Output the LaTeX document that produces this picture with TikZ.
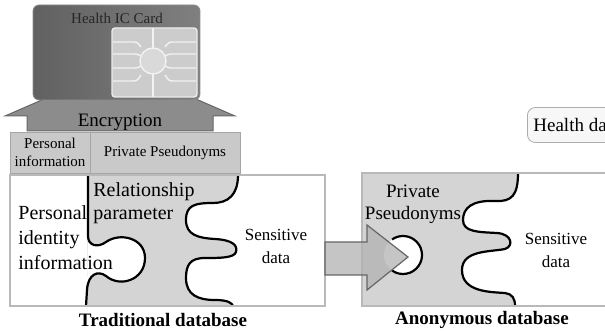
\documentclass[tikz,border=0pt]{standalone}
\usepackage{fontspec}
\setmainfont{Liberation Serif}
\newfontfamily\labelfont{Liberation Serif}
\usetikzlibrary{positioning}

\begin{document}
\begin{tikzpicture}[
        x=0.5pt, y=-0.5pt,
        every node/.style={font=\labelfont},
        box_style/.style={rectangle, draw=gray!70, fill=black!21, inner sep=0pt, align=center, font=\labelfont\fontsize{7.5}{9}\selectfont},
        label_style/.style={font=\labelfont\fontsize{10}{12.5}\selectfont, align=left, inner sep=0pt, anchor=north west},
        small_style/.style={font=\labelfont\fontsize{8.5}{11.5}\selectfont, align=center, inner sep=0pt},
        title_style/.style={font=\labelfont\fontsize{9.5}{11}\selectfont\bfseries, inner sep=0pt},
        edge_style/.style={line width=1.1pt, black},
        frame_style/.style={draw=gray!55, line width=0.6pt, fill=white},
        chip_line/.style={white!90!gray, line width=0.7pt}
    ]
    \useasboundingbox (0,0) rectangle (605,331);
    \clip (0,0) rectangle (605,331);

    % Pfeil nach oben (Verschluesselung)
    \filldraw[fill=black!45, draw=black!60, line width=0.5pt]
        (27,131) -- (27,116) -- (5,116) -- (120,66) -- (235,116) -- (213,116) -- (213,131) -- cycle;
    \node (enc) [font=\labelfont\fontsize{9.5}{11}\selectfont, inner sep=0pt] at (120,122) {Encryption};

    % Karte mit Chip
    \node (card) [rectangle, rounded corners=3pt, draw=black!45, left color=black!62, right color=black!50, minimum width=83.5pt, minimum height=47.5pt] at (116.5,52.5) {};
    \node (cardtitle) [font=\labelfont\fontsize{7.5}{9}\selectfont, text=black!85, inner sep=0pt] at (117,18) {Health IC Card};
    \node (chip) [rectangle, rounded corners=1.5pt, draw=white!85!gray, line width=0.7pt, fill=black!20, minimum width=42.5pt, minimum height=34.5pt] at (154.5,62.5) {};
    \draw[chip_line, fill=black!15] (153,61) circle[radius=13];
    \draw[chip_line] (153,28) -- (153,48) (153,74) -- (153,97);
    \foreach \yy/\ee in {42/47, 54/56, 68/66, 81/75} {
        \draw[chip_line] (113,\yy) -- (132,\yy) .. controls (137,\yy) .. (141,\ee);
        \draw[chip_line] (196,\yy) -- (174,\yy) .. controls (169,\yy) .. (165,\ee);
    }

    % Obere Felder
    \node (persinfo) [box_style, minimum width=40pt, minimum height=20.5pt] at (50,152.5) {Personal\\information};
    \node (pseudo) [box_style, minimum width=75pt, minimum height=20.5pt] at (165,152.5) {Private Pseudonyms};

    % Traditionelle Datenbank
    \draw[frame_style] (10,175) rectangle (325,306);
    \fill[black!17] (88,175) -- (238,175)
        .. controls (238,195) and (228,203) .. (213,203)
        .. controls (195,203) and (186,205) .. (186,220)
        .. controls (186,235) and (198,238) .. (215,239)
        .. controls (232,240) and (238,245) .. (236,252)
        .. controls (234,258) and (220,258) .. (205,258)
        .. controls (190,258) and (186,265) .. (186,278)
        .. controls (186,295) and (198,300) .. (215,300)
        .. controls (228,300) and (232,303) .. (233,306)
        -- (87,306) -- cycle;
    \fill[white] (88,236)
        .. controls (88,246) and (98,248) .. (106,242)
        .. controls (120,232) and (145,238) .. (145,258)
        .. controls (145,280) and (120,288) .. (106,276)
        .. controls (98,270) and (88,274) .. (87,290) -- cycle;
    \draw[edge_style] (88,175) -- (88,236)
        .. controls (88,246) and (98,248) .. (106,242)
        .. controls (120,232) and (145,238) .. (145,258)
        .. controls (145,280) and (120,288) .. (106,276)
        .. controls (98,270) and (88,274) .. (87,290) -- (86,306);
    \draw[edge_style] (238,175)
        .. controls (238,195) and (228,203) .. (213,203)
        .. controls (195,203) and (186,205) .. (186,220)
        .. controls (186,235) and (198,238) .. (215,239)
        .. controls (232,240) and (238,245) .. (236,252)
        .. controls (234,258) and (220,258) .. (205,258)
        .. controls (190,258) and (186,265) .. (186,278)
        .. controls (186,295) and (198,300) .. (215,300)
        .. controls (228,300) and (232,303) .. (233,306);
    \draw[gray!55, line width=0.6pt] (10,175) rectangle (325,306);

    \node (identity) [label_style] at (18,205) {Personal\\identity\\information};
    \node (relation) [label_style, font=\labelfont\fontsize{10}{11.5}\selectfont] at (93,182) {Relationship\\parameter};
    \node (sens1) [small_style] at (276,246) {Sensitive\\data};
    \node (trad) [title_style] at (163,320) {Traditional database};

    % Anonyme Datenbank
    \draw[frame_style] (362,173) rectangle (620,306);
    \fill[black!17] (362,173) -- (518,173)
        .. controls (518,195) and (512,202) .. (495,201)
        .. controls (472,200) and (463,208) .. (463,220)
        .. controls (463,232) and (478,232) .. (497,233)
        .. controls (512,234) and (514,246) .. (505,249)
        .. controls (490,252) and (462,250) .. (462,270)
        .. controls (462,292) and (490,292) .. (505,293)
        .. controls (512,294) and (515,298) .. (515,306)
        -- (362,306) -- cycle;
    \draw[edge_style] (518,173)
        .. controls (518,195) and (512,202) .. (495,201)
        .. controls (472,200) and (463,208) .. (463,220)
        .. controls (463,232) and (478,232) .. (497,233)
        .. controls (512,234) and (514,246) .. (505,249)
        .. controls (490,252) and (462,250) .. (462,270)
        .. controls (462,292) and (490,292) .. (505,293)
        .. controls (512,294) and (515,298) .. (515,306);
    \draw[gray!55, line width=0.6pt] (362,173) rectangle (620,306);
    \fill[white] (403,255) circle[radius=19];
    \draw[edge_style] (403,255) ++(125:19) arc[start angle=125, end angle=-125, radius=19];

    \node (pseudo2) [small_style, font=\labelfont\fontsize{9.5}{11}\selectfont] at (413,204) {Private\\Pseudonyms};
    \node (sens2) [small_style] at (556,250) {Sensitive\\data};
    \node (anon) [title_style] at (482,320) {Anonymous database};

    % Pfeil zwischen den Datenbanken
    \filldraw[fill=black!30, fill opacity=0.75, draw=black!60, line width=0.6pt]
        (325,242) -- (367,242) -- (367,225) -- (408,257) -- (367,290) -- (367,275) -- (325,275) -- cycle;

    % Gesundheitsdaten
    \node (health) [rectangle, rounded corners=4pt, draw=gray!65, fill=gray!6, anchor=west, minimum height=17.5pt, inner xsep=3pt, font=\labelfont\fontsize{9.5}{11}\selectfont] at (527,125) {Health data};

\end{tikzpicture}
\end{document}
